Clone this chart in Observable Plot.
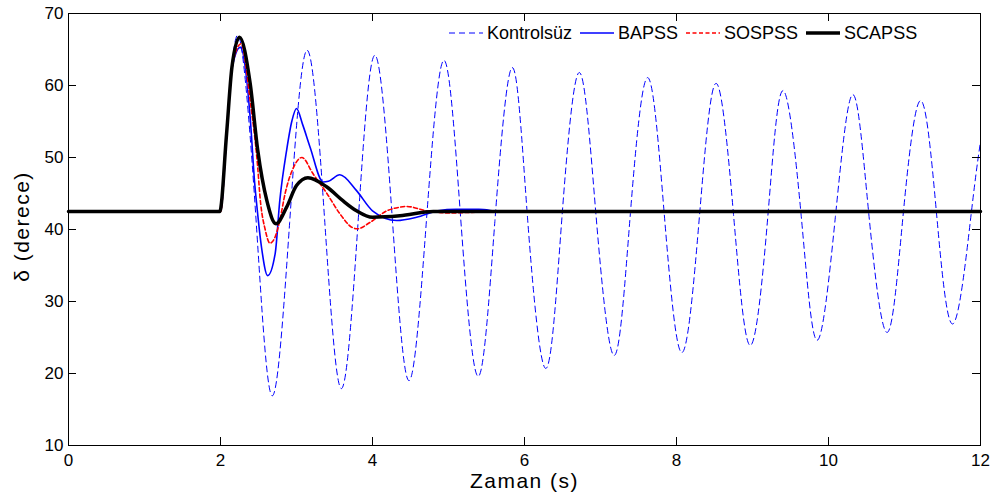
<!DOCTYPE html>
<html>
<head>
<meta charset="utf-8">
<script src="https://cdn.jsdelivr.net/npm/d3@7"></script>
<script src="https://cdn.jsdelivr.net/npm/@observablehq/plot@0.6"></script>
<style>
  html, body { margin: 0; padding: 0; background: #fff; }
  #wrap { position: relative; width: 997px; height: 503px; font-family: "Liberation Sans", Arial, Helvetica, sans-serif; }
  #legend { position: absolute; left: 449px; top: 22px; height: 22px; display: flex; align-items: center; font-size: 18px; color: #000; white-space: nowrap; }
  #legend .item { display: flex; align-items: center; margin-right: 8px; }
  #legend svg { margin-right: 4px; }
</style>
</head>
<body>
<div id="wrap">
  <div id="chart"></div>
  <div id="legend"></div>
</div>
<script>
// ---- data ----
const seriesNames = ["Kontrolsüz", "BAPSS", "SOSPSS", "SCAPSS"];
const xTicks = [0, 2, 4, 6, 8, 10, 12];
const yTicks = [10, 20, 30, 40, 50, 60, 70];

const kontrolT = [0, 2.0, 2.08, 2.15, 2.27, 2.47, 2.68, 2.91, 3.14, 3.37, 3.59, 3.81, 4.03, 4.26, 4.48, 4.71, 4.94, 5.16, 5.39, 5.61, 5.84, 6.04, 6.28, 6.49, 6.72, 6.94, 7.18, 7.39, 7.62, 7.84, 8.07, 8.30, 8.52, 8.75, 8.97, 9.20, 9.40, 9.64, 9.85, 10.09, 10.32, 10.53, 10.77, 10.98, 11.21, 11.42, 11.64, 11.88, 12.0];
const kontrolY = [42.5, 42.5, 53.3, 62.5, 65.6, 41.0, 16.9, 41.0, 64.9, 41.4, 17.9, 41.0, 64.2, 41.6, 19.0, 41.3, 63.5, 41.6, 19.6, 41.1, 62.5, 41.6, 20.7, 41.3, 61.8, 42.1, 22.5, 41.8, 61.1, 42.0, 22.9, 41.6, 60.3, 42.1, 23.9, 41.6, 59.3, 42.0, 24.6, 41.7, 58.75, 42.2, 25.7, 41.8, 57.9, 42.4, 26.9, 42.4, 52.2];

const bapssT = [0, 2.0, 2.08, 2.15, 2.26, 2.39, 2.45, 2.48, 2.54, 2.62, 2.72, 2.78, 2.87, 2.94, 3.0, 3.08, 3.18, 3.35, 3.42, 3.57, 3.79, 4.0, 4.32, 4.58, 4.86, 5.1, 5.4, 5.7, 8.0, 12.0];
const bapssY = [42.5, 42.5, 53.0, 62.3, 65.3, 55.6, 46.4, 43.1, 37.5, 33.6, 36.7, 44.0, 51.0, 55.1, 56.8, 54.6, 51.4, 46.6, 46.7, 47.6, 45.4, 42.6, 41.25, 41.7, 42.6, 42.8, 42.8, 42.5, 42.5, 42.5];

const sospssT = [0, 2.0, 2.08, 2.15, 2.27, 2.39, 2.49, 2.52, 2.59, 2.65, 2.72, 2.78, 2.85, 2.96, 3.07, 3.22, 3.40, 3.57, 3.73, 3.80, 3.97, 4.19, 4.36, 4.45, 4.71, 5.0, 5.4, 8.0, 12.0];
const sospssY = [42.5, 42.5, 53.2, 62.4, 65.8, 57.9, 48.6, 44.5, 39.9, 38.1, 39.0, 41.25, 45.0, 48.6, 50.0, 47.7, 45.0, 42.2, 40.3, 40.1, 41.0, 42.6, 43.1, 43.2, 42.6, 42.3, 42.4, 42.5, 42.5];

const scapssT = [0, 1.99, 2.08, 2.15, 2.25, 2.39, 2.49, 2.61, 2.73, 2.87, 3.0, 3.15, 3.40, 3.61, 3.79, 4.0, 4.36, 4.8, 6.0, 9.0, 12.0];
const scapssY = [42.5, 42.5, 53.3, 62.5, 66.7, 60.3, 51.0, 44.0, 40.8, 43.1, 46.1, 47.2, 45.9, 44.0, 42.6, 41.7, 41.9, 42.5, 42.5, 42.5, 42.5];

// ---- tables built from the arrays ----
const toRows = (T, Y) => T.map((t, i) => ({t, v: Y[i]}));
const kontrol = toRows(kontrolT, kontrolY);
const bapss = toRows(bapssT, bapssY);
const sospss = toRows(sospssT, sospssY);
const scapss = toRows(scapssT, scapssY);

const styles = {
  "Kontrolsüz": {stroke: "#0000ff", strokeWidth: 1, strokeDasharray: "6,4"},
  "BAPSS": {stroke: "#0000ff", strokeWidth: 1.6},
  "SOSPSS": {stroke: "#ff0000", strokeWidth: 1.6, strokeDasharray: "4,2.5"},
  "SCAPSS": {stroke: "#000000", strokeWidth: 3.5}
};

const W = 997, H = 503, mL = 68, mR = 17, mT = 13, mB = 58;
const plotW = W - mL - mR, plotH = H - mT - mB;
const tickLen = 8;

const chart = Plot.plot({
  width: W, height: H,
  marginLeft: mL, marginRight: mR, marginTop: mT, marginBottom: mB,
  style: {fontFamily: '"Liberation Sans", Arial, Helvetica, sans-serif', fontSize: "17px", color: "#000", background: "#fff"},
  x: {domain: [0, 12]},
  y: {domain: [10, 70]},
  marks: [
    // series
    Plot.line(kontrol.filter(d => d.t <= 2.0), {x: "t", y: "v", ...styles["Kontrolsüz"]}),
    Plot.line(kontrol.filter(d => d.t >= 2.0), {x: "t", y: "v", curve: "natural", ...styles["Kontrolsüz"]}),
    Plot.line(bapss, {x: "t", y: "v", curve: "monotone-x", ...styles["BAPSS"]}),
    Plot.line(sospss, {x: "t", y: "v", curve: "monotone-x", ...styles["SOSPSS"]}),
    Plot.line(scapss, {x: "t", y: "v", curve: "monotone-x", ...styles["SCAPSS"]}),
    // inward ticks on all four sides
    Plot.tickX(xTicks, {x: d => d, insetTop: plotH - tickLen, stroke: "#000", strokeWidth: 1}),
    Plot.tickX(xTicks, {x: d => d, insetBottom: plotH - tickLen, stroke: "#000", strokeWidth: 1}),
    Plot.tickY(yTicks, {y: d => d, insetRight: plotW - tickLen, stroke: "#000", strokeWidth: 1}),
    Plot.tickY(yTicks, {y: d => d, insetLeft: plotW - tickLen, stroke: "#000", strokeWidth: 1}),
    Plot.frame({stroke: "#000", strokeWidth: 1}),
    // axes (labels only)
    Plot.axisX({ticks: xTicks, tickSize: 0, tickPadding: 8, label: null, fontSize: 17}),
    Plot.axisY({ticks: yTicks, tickSize: 0, tickPadding: 5, label: null, fontSize: 17}),
    // axis titles
    Plot.text(["Zaman (s)"], {frameAnchor: "bottom", textAnchor: "middle", lineAnchor: "middle", dy: 36, fontSize: 21, fill: "#000"}),
    Plot.text(["δ (derece)"], {frameAnchor: "left", textAnchor: "middle", lineAnchor: "middle", dx: -46, dy: -3, rotate: -90, fontSize: 21, fill: "#000"})
  ]
});
document.getElementById("chart").appendChild(chart);
d3.select(chart).selectAll("text")
  .filter(function() { return this.textContent === "Zaman (s)" || this.textContent === "δ (derece)"; })
  .attr("letter-spacing", "1.5px");

// ---- legend ----
const legend = d3.select("#legend");
for (const name of seriesNames) {
  const s = styles[name];
  const item = legend.append("div").attr("class", "item");
  const svg = item.append("svg").attr("width", 34).attr("height", 10);
  svg.append("line").attr("x1", 0).attr("x2", 34).attr("y1", 5).attr("y2", 5)
    .attr("stroke", s.stroke).attr("stroke-width", s.strokeWidth)
    .attr("stroke-dasharray", s.strokeDasharray || null);
  item.append("span").text(name);
}
</script>
</body>
</html>
